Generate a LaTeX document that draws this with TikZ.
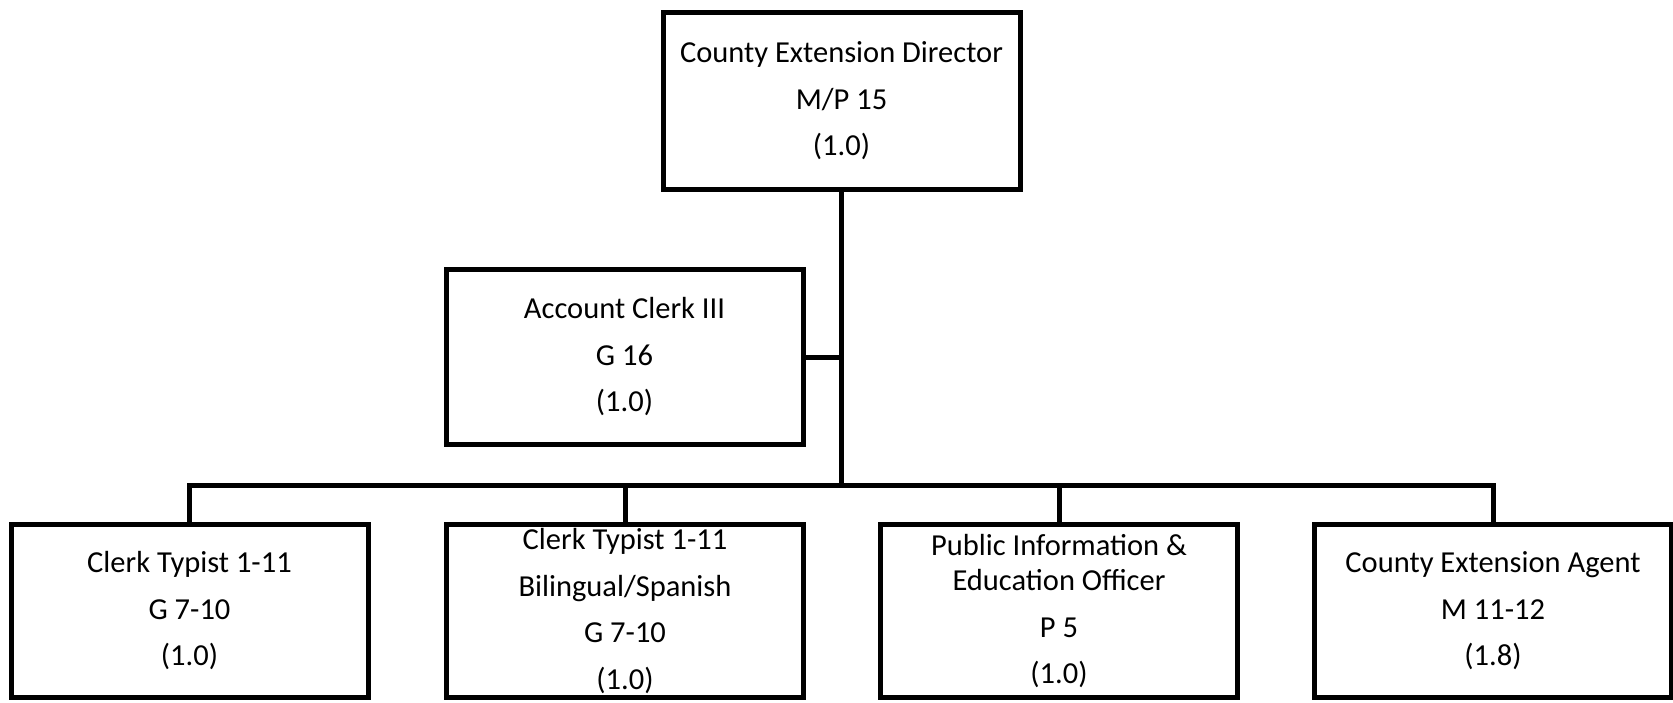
\documentclass[tikz,border=0pt]{standalone}
\usepackage{fontspec}
\setmainfont{Carlito}
\begin{document}
\begin{tikzpicture}[x=1pt,y=1pt,
  box/.style={draw=black, line width=5pt, rectangle, align=center,
    minimum width=357pt, inner sep=0pt,
    font=\fontsize{30.5}{46.5}\selectfont},
  conn/.style={draw=black, line width=5pt, line join=miter}]
\useasboundingbox (0,0) rectangle (1673,-703);
\node[box, minimum height=177pt] (dir) at (841.5,-101) {County Extension Director\\M/P 15\\(1.0)};
\node[box, minimum height=175pt] (acc) at (624.5,-357) {Account Clerk III\\G 16\\(1.0)};
\node[box, minimum height=173pt] (b1) at (189.5,-611) {Clerk Typist 1-11\\G 7-10\\(1.0)};
\node[box, minimum height=173pt] (b2) at (625,-611) {Clerk Typist 1-11\\Bilingual/Spanish\\G 7-10\\(1.0)};
\node[box, minimum height=173pt] (b3) at (1059,-611) {Public Information \&\\[-11pt]Education Officer\\P 5\\(1.0)};
\node[box, minimum height=173pt] (b4) at (1493,-611) {County Extension Agent\\M 11-12\\(1.8)};
\coordinate (bus) at (841.5,-485);
\draw[conn] (dir.south) -- (bus);
\draw[conn] (acc.east) -- (acc.east -| dir.south);
\draw[conn] (b1.north) -- (b1.north |- bus) -- (b4.north |- bus) -- (b4.north);
\draw[conn] (b2.north) -- (b2.north |- bus);
\draw[conn] (b3.north) -- (b3.north |- bus);
\end{tikzpicture}
\end{document}
